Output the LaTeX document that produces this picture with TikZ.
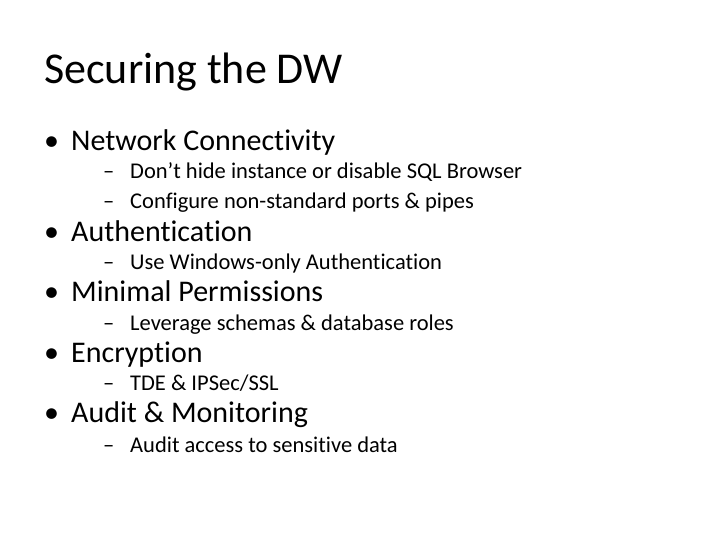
\documentclass[tikz,border=0pt]{standalone}
\usepackage{fontspec}
\setmainfont{Carlito}[Ligatures=NoCommon]
\begin{document}
\begin{tikzpicture}[x=1pt,y=-1pt,
 t/.style={anchor=base west,inner sep=0pt,font=\fontsize{44}{50}\selectfont},
 a/.style={anchor=base west,inner sep=0pt,font=\fontsize{30}{34}\selectfont},
 b/.style={anchor=base west,inner sep=0pt,font=\fontsize{22.5}{26}\selectfont}]
\useasboundingbox (0,0) rectangle (720,540);
\node[t] (title) at (44,84) {Securing the DW};
\foreach \y/\txt [count=\i] in {151/Network Connectivity,241/Authentication,301/Minimal Permissions,362/Encryption,422/Audit \& Monitoring}{
 \node[a] (d\i) at (44,\y) {•};
 \node[a] (l\i) at (71,\y) {\txt};
}
\foreach \y/\txt [count=\i] in {179/Don’t hide instance or disable SQL Browser,208/Configure non-standard ports \& pipes,269/Use Windows-only Authentication,330/Leverage schemas \& database roles,390/{TDE \& IPSec/SSL},452/Audit access to sensitive data}{
 \node[b] (e\i) at (103,\y) {–};
 \node[b] (s\i) at (130,\y) {\txt};
}
\end{tikzpicture}
\end{document}
